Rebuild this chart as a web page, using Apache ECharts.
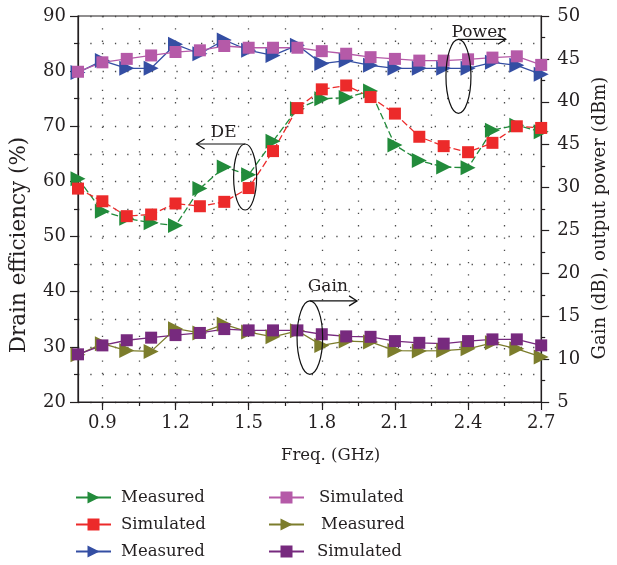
<!DOCTYPE html>
<html>
<head>
<meta charset="utf-8">
<script src="https://cdn.jsdelivr.net/npm/echarts@6/dist/echarts.min.js"></script>
<style>
  html, body { margin: 0; padding: 0; background: #ffffff; }
  #chart { width: 617px; height: 565px; }
</style>
</head>
<body>
<div id="chart"></div>
<script>
// Frequency sweep (GHz)
const freqGHz = [0.8, 0.9, 1.0, 1.1, 1.2, 1.3, 1.4, 1.5, 1.6, 1.7, 1.8, 1.9, 2.0, 2.1, 2.2, 2.3, 2.4, 2.5, 2.6, 2.7];

// Drain efficiency (%), left axis
const deMeasured  = [60.5, 54.6, 53.3, 52.5, 52.0, 58.7, 62.6, 61.2, 67.3, 73.2, 75.0, 75.2, 76.4, 66.6, 63.8, 62.6, 62.5, 69.3, 70.2, 69.0];
const deSimulated = [58.7, 56.4, 53.7, 54.0, 56.0, 55.5, 56.3, 58.8, 65.5, 73.3, 76.7, 77.4, 75.3, 72.3, 68.1, 66.4, 65.3, 67.0, 70.0, 69.7];

// Output power (dBm), right axis
const powerMeasured  = [43.4, 44.8, 43.9, 43.9, 46.7, 45.6, 47.2, 46.0, 45.4, 46.6, 44.45, 44.8, 44.25, 43.9, 43.9, 43.9, 43.9, 44.6, 44.25, 43.2];
const powerSimulated = [43.5, 44.6, 45.0, 45.4, 45.8, 46.0, 46.5, 46.3, 46.3, 46.3, 45.9, 45.6, 45.2, 45.0, 44.8, 44.8, 44.95, 45.15, 45.3, 44.3];

// Gain (dB), right axis
const gainMeasured  = [10.5, 11.8, 11.0, 10.9, 13.55, 13.05, 14.05, 13.15, 12.6, 13.3, 11.6, 12.1, 12.0, 11.0, 10.95, 11.0, 11.2, 11.9, 11.2, 10.25];
const gainSimulated = [10.56, 11.6, 12.2, 12.5, 12.8, 13.05, 13.5, 13.35, 13.35, 13.35, 12.9, 12.65, 12.6, 12.1, 11.9, 11.8, 12.1, 12.3, 12.3, 11.6];

// Tick positions and labels
const xLabelTicks = [0.9, 1.2, 1.5, 1.8, 2.1, 2.4, 2.7];
const xGridTicks = [0.9, 1.05, 1.2, 1.35, 1.5, 1.65, 1.8, 1.95, 2.1, 2.25, 2.4, 2.55];
const rightTickLabels = ['5', '10', '15', '20', '25', '30', '45', '40', '45', '50'];
const legendLabels = ['Measured', 'Simulated', 'Measured', 'Simulated', 'Measured', 'Simulated'];

const FONT = 'DejaVu Serif';
const INK = '#231f20';
const DOTS = { color: '#4a4a4a', width: 1.3, type: [1.3, 11] };

const pairs = (ys) => freqGHz.map((f, i) => [f, ys[i]]);

function lineSeries(name, ys, yAxisIndex, color, kind, dashed) {
  const tri = kind === 'tri';
  return {
    name: name,
    type: 'line',
    yAxisIndex: yAxisIndex,
    data: pairs(ys),
    symbol: tri ? 'triangle' : 'rect',
    symbolSize: tri ? [15, 15] : 12,
    symbolRotate: tri ? -90 : 0,
    showSymbol: true,
    animation: false,
    itemStyle: { color: color, opacity: 1 },
    lineStyle: { color: color, width: 1.3, type: dashed ? [7, 3] : 'solid' },
    emphasis: { disabled: true }
  };
}

const seriesNames = ['deMeasured', 'deSimulated', 'powerMeasured', 'powerSimulated', 'gainMeasured', 'gainSimulated'];

const chart = echarts.init(document.getElementById('chart'), null, { renderer: 'canvas' });

// One legend entry per box: two columns of three rows under the plot
function legendEntry(name, left, top, textGap) {
  return {
    data: [name],
    left: left,
    top: top,
    padding: 0,
    itemWidth: 35,
    itemHeight: 15,
    selectedMode: false,
    lineStyle: { type: 'solid' },
    formatter: (n) => legendLabels[seriesNames.indexOf(n)],
    textStyle: { fontFamily: FONT, fontSize: 16.5, color: INK, padding: [0, 0, 0, textGap] }
  };
}

chart.setOption({
  animation: false,
  backgroundColor: '#ffffff',
  textStyle: { fontFamily: FONT, color: INK },
  grid: { left: 76, right: 68, top: 16, bottom: 163, show: true, borderColor: INK, borderWidth: 1.2, backgroundColor: 'transparent' },
  xAxis: [
    {
      type: 'value', min: 0.8, max: 2.7, position: 'bottom',
      axisLine: { show: true, onZero: false, lineStyle: { color: INK, width: 1.2 } },
      axisTick: { show: true, customValues: xGridTicks, length: 4, lineStyle: { color: INK, width: 1.2 } },
      axisLabel: { customValues: xLabelTicks, margin: 12, fontFamily: FONT, fontSize: 18, color: INK, formatter: (v) => v.toFixed(1) },
      splitLine: { show: true, lineStyle: DOTS },
      name: 'Freq. (GHz)', nameLocation: 'middle', nameGap: 45,
      nameTextStyle: { fontFamily: FONT, fontSize: 16.5, color: INK, padding: [0, 0, 0, 42] }
    },
    {
      type: 'value', min: 0.8, max: 2.7, position: 'bottom',
      axisLine: { show: false },
      axisTick: { show: true, customValues: xLabelTicks, length: 8, lineStyle: { color: INK, width: 1.2 } },
      axisLabel: { show: false },
      splitLine: { show: false }
    }
  ],
  yAxis: [
    {
      type: 'value', min: 20, max: 90, interval: 10, position: 'left',
      axisLine: { show: true, onZero: false, lineStyle: { color: INK, width: 1.2 } },
      axisTick: { show: true, length: 8, lineStyle: { color: INK, width: 1.2 } },
      minorTick: { show: true, splitNumber: 2, length: 4, lineStyle: { color: INK, width: 1.2 } },
      splitLine: { show: true, lineStyle: DOTS },
      minorSplitLine: { show: true, lineStyle: DOTS },
      axisLabel: { margin: 12, fontFamily: FONT, fontSize: 18, color: INK },
      name: 'Drain efficiency (%)', nameLocation: 'middle', nameGap: 48, nameRotate: 90,
      nameTextStyle: { fontFamily: FONT, fontSize: 21.5, color: INK, padding: [0, 72, 0, 0] }
    },
    {
      type: 'value', min: 5, max: 50, interval: 5, position: 'right',
      axisLine: { show: true, onZero: false, lineStyle: { color: INK, width: 1.2 } },
      axisTick: { show: true, length: 8, lineStyle: { color: INK, width: 1.2 } },
      minorTick: { show: true, splitNumber: 2, length: 4, lineStyle: { color: INK, width: 1.2 } },
      splitLine: { show: false },
      axisLabel: { margin: 16, fontFamily: FONT, fontSize: 18, color: INK, formatter: (v) => rightTickLabels[Math.round((v - 5) / 5)] },
      name: 'Gain (dB), output power (dBm)', nameLocation: 'middle', nameGap: 42, nameRotate: 90,
      nameTextStyle: { fontFamily: FONT, fontSize: 18, color: INK, padding: [0, 18, 0, 0] }
    }
  ],
  legend: [
    legendEntry('deMeasured', 75, 489, 5),
    legendEntry('deSimulated', 75, 516, 5),
    legendEntry('powerMeasured', 75, 543, 5),
    legendEntry('powerSimulated', 268, 489, 10),
    legendEntry('gainMeasured', 268, 516, 12),
    legendEntry('gainSimulated', 268, 543, 8)
  ],
  series: [
    lineSeries('deMeasured', deMeasured, 0, '#228b3b', 'tri', true),
    lineSeries('powerMeasured', powerMeasured, 1, '#344ea3', 'tri', false),
    lineSeries('gainMeasured', gainMeasured, 1, '#7c7d2c', 'tri', false),
    lineSeries('deSimulated', deSimulated, 0, '#ec2a2a', 'rect', true),
    lineSeries('powerSimulated', powerSimulated, 1, '#b55aa8', 'rect', false),
    lineSeries('gainSimulated', gainSimulated, 1, '#772a7e', 'rect', false)
  ]
});

// Callouts: ellipse around a group of curves, a leader arrow toward its axis, and a caption
function callout(anchor, axisIdx, rx, ry, arrowLen, text, textDx, textLift) {
  const [cx, cy] = chart.convertToPixel({ xAxisIndex: 0, yAxisIndex: axisIdx }, anchor);
  const top = cy - ry;
  const tipX = cx + arrowLen;
  const dir = Math.sign(arrowLen);
  const stroke = { stroke: '#111111', lineWidth: 1.2, fill: 'none' };
  return [
    { type: 'ellipse', silent: true, z: 20, shape: { cx: cx, cy: cy, rx: rx, ry: ry }, style: stroke },
    { type: 'polyline', silent: true, z: 20, shape: { points: [[cx, top], [tipX, top]] }, style: stroke },
    { type: 'polyline', silent: true, z: 20, shape: { points: [[tipX - dir * 8, top - 5], [tipX, top], [tipX - dir * 8, top + 5]] }, style: stroke },
    { type: 'text', silent: true, z: 20, x: cx + textDx, y: top - textLift,
      style: { text: text, fontFamily: FONT, fontSize: 17, fill: INK, align: 'center', verticalAlign: 'bottom' } }
  ];
}

chart.setOption({
  graphic: [].concat(
    callout([1.4855, 60.8], 0, 11.5, 33, -48.5, 'DE', -21.5, 3),
    callout([2.3606, 42.97], 1, 12.5, 37, 47.4, 'Power', 20, -2),
    callout([1.751, 12.51], 1, 12.8, 36.7, 47.2, 'Gain', 18, 6)
  )
});
</script>
</body>
</html>
